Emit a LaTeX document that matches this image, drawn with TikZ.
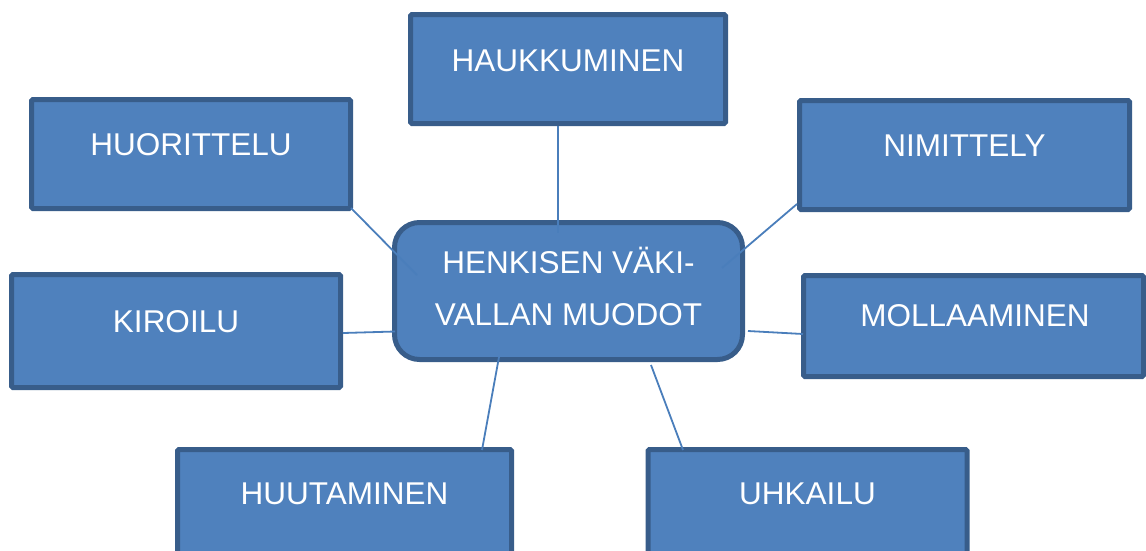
\documentclass[tikz,border=0pt]{standalone}
\usepackage{fontspec}
\setmainfont{Liberation Sans}
\definecolor{boxfill}{HTML}{4F81BD}
\definecolor{boxline}{HTML}{385D8A}
\definecolor{conn}{HTML}{4A7EBB}
\begin{document}
\begin{tikzpicture}[x=1pt,y=-1pt,
  box/.style={draw=boxline,fill=boxfill,line width=5pt,rounded corners=1.5pt,inner sep=0pt},
  hub/.style={draw=boxline,fill=boxfill,line width=5pt,rounded corners=25pt,inner sep=0pt},
  lbl/.style={text=white,font=\fontsize{31.5}{55}\selectfont,inner sep=0pt,align=center},
  conline/.style={draw=conn,line width=1.8pt}]
\useasboundingbox (0,0) rectangle (1146,550);
\clip (0,0) rectangle (1146,550);
% outer boxes
\node[box,minimum width=315pt,minimum height=109pt] (haukku) at (568,69) {};
\node[lbl] (haukkut) at (568,61) {HAUKKUMINEN};
\node[box,minimum width=319pt,minimum height=109pt] (huor) at (191,154) {};
\node[lbl] (huort) at (191,145) {HUORITTELU};
\node[box,minimum width=330pt,minimum height=109pt] (nimit) at (964.5,155) {};
\node[lbl] (nimitt) at (964.5,146) {NIMITTELY};
\node[box,minimum width=329pt,minimum height=113pt] (kiro) at (176,331) {};
\node[lbl] (kirot) at (176,322) {KIROILU};
\node[box,minimum width=340pt,minimum height=101pt] (moll) at (973.5,326) {};
\node[lbl] (mollt) at (975,316) {MOLLAAMINEN};
\node[box,minimum width=334pt,minimum height=110pt] (huut) at (344.5,504.5) {};
\node[lbl] (huutt) at (344.5,494) {HUUTAMINEN};
\node[box,minimum width=319pt,minimum height=110pt] (uhk) at (807.5,504.5) {};
\node[lbl] (uhkt) at (807.5,494) {UHKAILU};
% hub
\node[hub,minimum width=348pt,minimum height=137pt] (hub) at (568.5,291) {};
\node[lbl] (hubt1) at (568.5,260) {HENKISEN VÄKI-};
\node[lbl] (hubt2) at (568.5,315) {VALLAN MUODOT};
% connector ends
\coordinate (a1) at (558,126);  \coordinate (b1) at (558,233);
\coordinate (a2) at (351,208);  \coordinate (b2) at (417,275);
\coordinate (a3) at (797,204);  \coordinate (b3) at (722,268);
\coordinate (a4) at (343,333);  \coordinate (b4) at (395,331.5);
\coordinate (a5) at (803,334);  \coordinate (b5) at (748,331);
\coordinate (a6) at (482,450);  \coordinate (b6) at (499,357);
\coordinate (a7) at (683,450);  \coordinate (b7) at (651,365);
\draw[conline] (a1) -- (b1);
\draw[conline] (a2) -- (b2);
\draw[conline] (a3) -- (b3);
\draw[conline] (a4) -- (b4);
\draw[conline] (a5) -- (b5);
\draw[conline] (a6) -- (b6);
\draw[conline] (a7) -- (b7);
\end{tikzpicture}
\end{document}
